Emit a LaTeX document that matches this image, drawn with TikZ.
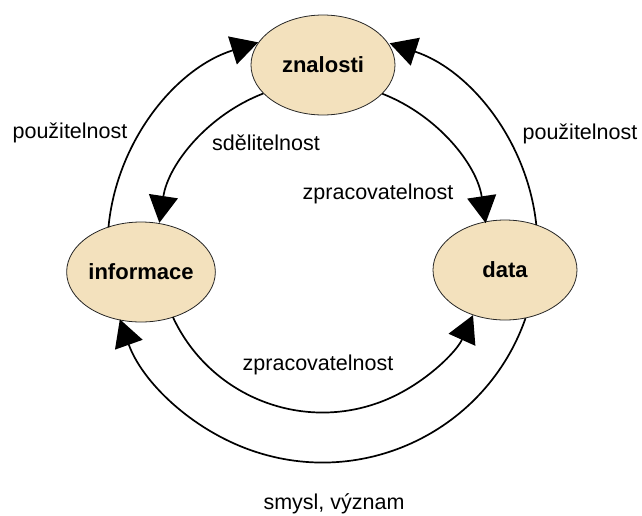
\documentclass[tikz,border=0pt]{standalone}
\usepackage{fontspec}
\setmainfont{Liberation Sans}
\usetikzlibrary{shapes.geometric,arrows.meta,calc}
\definecolor{nodefill}{RGB}{243,225,189}
\begin{document}
\begin{tikzpicture}[x=1pt,y=1pt,
  concept/.style={ellipse, draw=black!85, line width=0.8pt, fill=nodefill,
    minimum width=144pt, minimum height=100pt, inner sep=0pt,
    font=\fontsize{22}{26}\selectfont\bfseries},
  lbl/.style={anchor=base, inner sep=0pt, font=\fontsize{21.5}{25}\selectfont},
  link/.style={line width=1.7pt, -{Triangle[length=27pt,width=29pt]}}]
\useasboundingbox (0,0) rectangle (642,-515);
\coordinate (C) at (322.5,-247.5);
% concepts
\node[concept] (zn) at (323,-65) {znalosti};
\node[concept] (inf) at (141,-272) {informace};
\node[concept] (dat) at (505,-270) {data};
% outer arcs (radius 215)
\draw[link] ($(C)+(174.6:215)$) arc[start angle=174.6, end angle=107.4, radius=215];
\draw[link] ($(C)+(6:215)$) arc[start angle=6, end angle=71.8, radius=215];
\draw[link] ($(C)+(-19.2:215)$) arc[start angle=-19.2, end angle=-160.5, radius=215];
% inner arcs (radius 165)
\draw[link] ($(C)+(111:165)$) arc[start angle=111, end angle=171.4, radius=165];
\draw[link] ($(C)+(68.8:165)$) arc[start angle=68.8, end angle=8.5, radius=165];
\draw[link] ($(C)+(-155.1:165)$) arc[start angle=-155.1, end angle=-24.2, radius=165];
% labels
\node[lbl] (l1) at (70,-138) {použitelnost};
\node[lbl] (l2) at (580,-139) {použitelnost};
\node[lbl] (l3) at (266,-150) {sdělitelnost};
\node[lbl] (l4) at (378,-199) {zpracovatelnost};
\node[lbl] (l5) at (318,-370) {zpracovatelnost};
\node[lbl] (l6) at (334,-509) {smysl, význam};
\end{tikzpicture}
\end{document}
